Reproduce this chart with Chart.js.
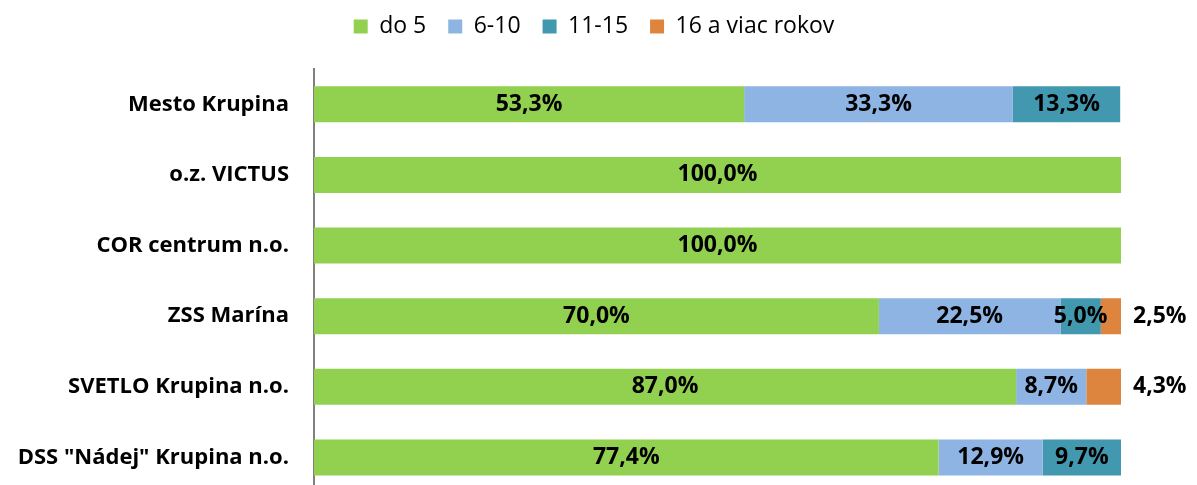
<!DOCTYPE html>
<html>
<head>
<meta charset="utf-8">
<script src="https://cdn.jsdelivr.net/npm/chart.js@4/dist/chart.umd.min.js"></script>
<style>
html,body{margin:0;padding:0;background:#fff;overflow:hidden;}
#wrap{width:1197px;height:531px;position:relative;}
</style>
</head>
<body>
<div id="wrap"><canvas id="c"></canvas></div>
<script>
const categories = ['Mesto Krupina', 'o.z. VICTUS', 'COR centrum n.o.', 'ZSS Marína', 'SVETLO Krupina n.o.', 'DSS "Nádej" Krupina n.o.'];
const seriesNames = ['do 5', '6-10', '11-15', '16 a viac rokov'];
const do5 = [53.3, 100.0, 100.0, 70.0, 87.0, 77.4];
const r6to10 = [33.3, 0, 0, 22.5, 8.7, 12.9];
const r11to15 = [13.3, 0, 0, 5.0, 0, 9.7];
const r16plus = [0, 0, 0, 2.5, 4.3, 0];
const colors = ['#92D050', '#8DB4E2', '#4198AF', '#DD843F'];

const FONT = '"Open Sans", sans-serif';

const legendSpace = {
  id: 'legendSpace',
  beforeInit(chart) {
    const orig = chart.legend.fit;
    chart.legend.fit = function () { orig.call(this); this.height += 21; };
  },
  afterLayout(chart) {
    chart.legend.left = 67;
  }
};

const dataLabels = {
  id: 'dataLabels',
  afterDatasetsDraw(chart) {
    const ctx = chart.ctx;
    ctx.save();
    ctx.font = 'bold 23px ' + FONT;
    ctx.fillStyle = '#000';
    ctx.textBaseline = 'middle';
    chart.data.datasets.forEach((ds, di) => {
      const meta = chart.getDatasetMeta(di);
      meta.data.forEach((bar, i) => {
        const v = ds.data[i];
        if (!v) return;
        const txt = v.toFixed(1).replace('.', ',') + '%';
        if (di === 3) {
          ctx.textAlign = 'left';
          ctx.fillText(txt, bar.x + 12, bar.y);
        } else {
          ctx.textAlign = 'center';
          ctx.fillText(txt, (bar.x + bar.base) / 2, bar.y);
        }
      });
    });
    ctx.restore();
  }
};

const dataArrays = [do5, r6to10, r11to15, r16plus];
new Chart(document.getElementById('c'), {
  type: 'bar',
  data: {
    labels: categories,
    datasets: seriesNames.map((n, i) => ({
      label: n,
      data: dataArrays[i],
      backgroundColor: colors[i],
      borderWidth: 0,
      categoryPercentage: 1,
      barPercentage: 0.51
    }))
  },
  options: {
    indexAxis: 'y',
    responsive: true,
    maintainAspectRatio: false,
    animation: false,
    layout: { padding: { top: -7, right: 76, bottom: 0, left: 0 } },
    plugins: {
      legend: {
        position: 'top',
        labels: {
          boxWidth: 14, boxHeight: 14, padding: 22,
          color: '#000',
          font: { family: FONT, size: 23 }
        }
      },
      tooltip: { enabled: false }
    },
    scales: {
      x: { stacked: true, min: 0, max: 100, display: false },
      y: {
        stacked: true,
        grid: { display: false, drawTicks: false },
        border: { display: true, color: '#808080', width: 2 },
        afterFit(scale) { scale.width = 314; },
        ticks: {
          padding: 25,
          color: '#000',
          font: { family: FONT, size: 22, weight: 'bold' }
        }
      }
    }
  },
  plugins: [legendSpace, dataLabels]
});
</script>
</body>
</html>
